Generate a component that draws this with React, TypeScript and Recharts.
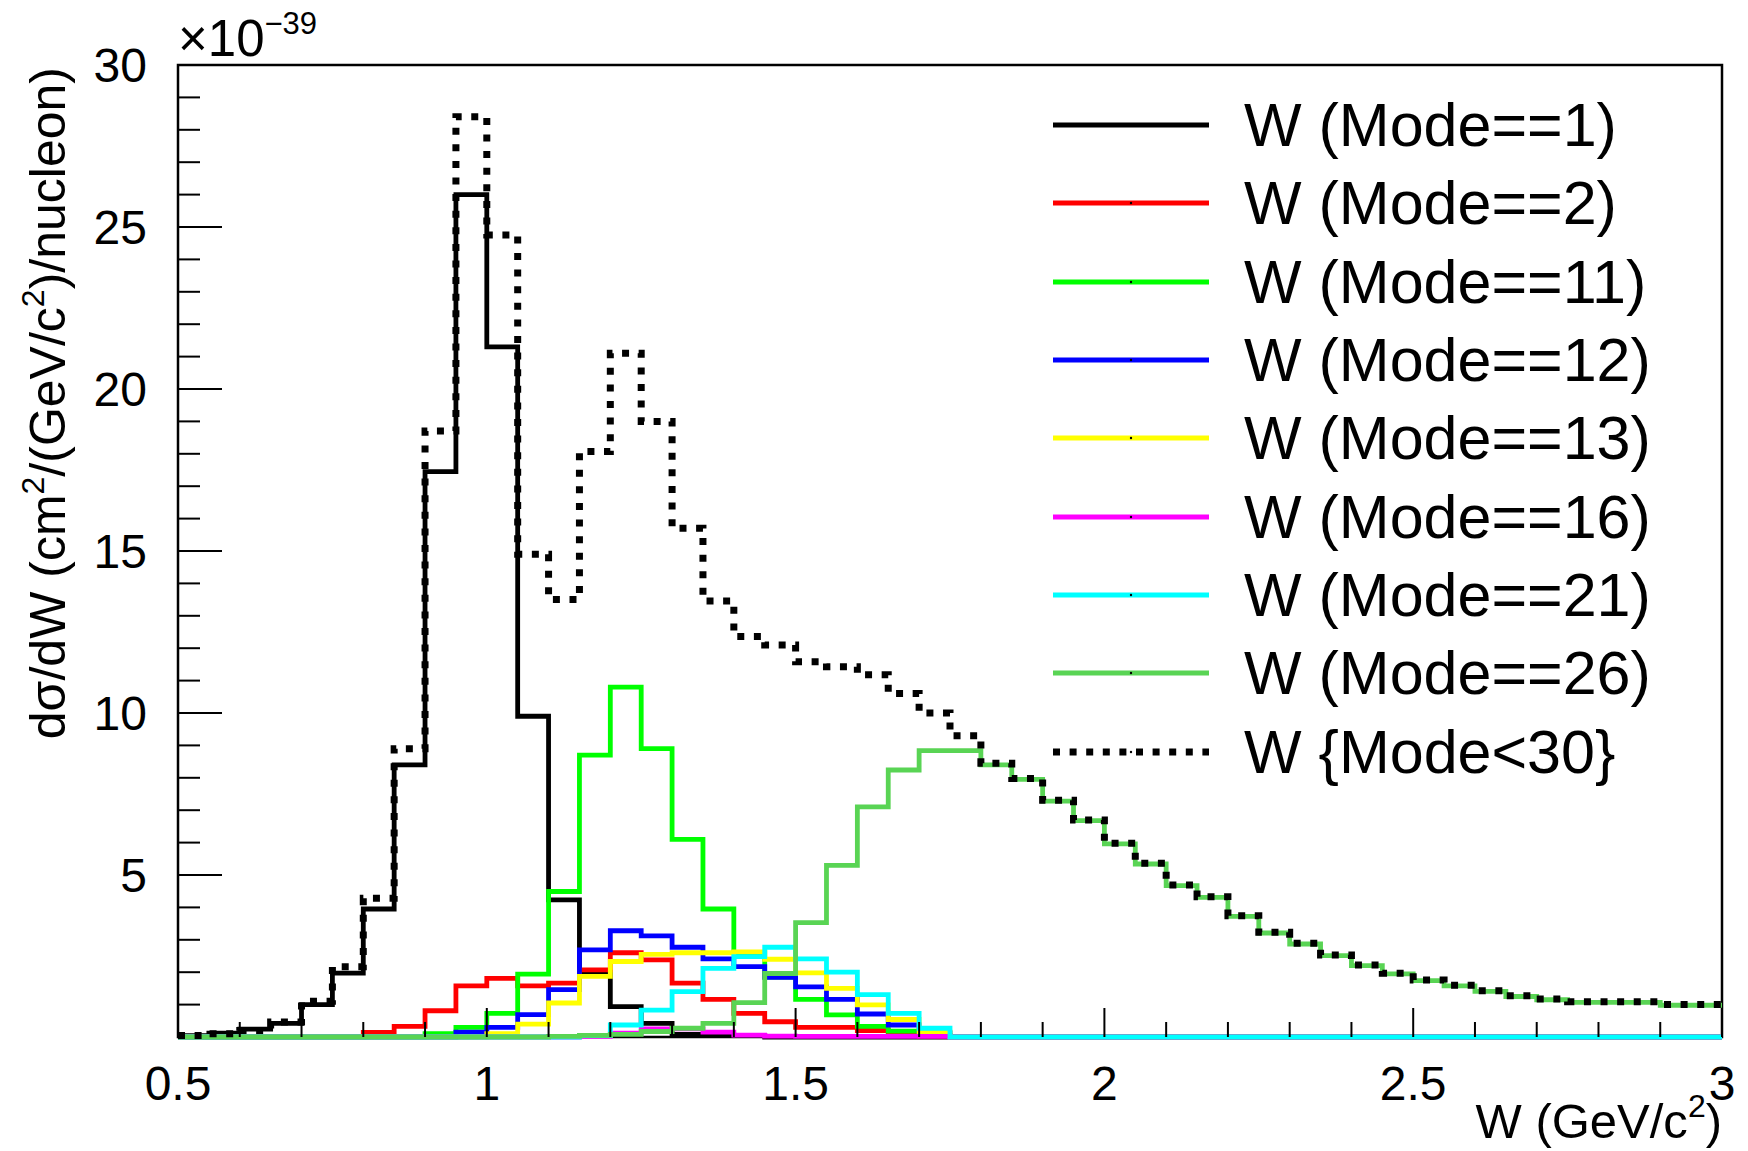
import React from "react";
import { LineChart, Line, XAxis, YAxis, ReferenceArea, Legend } from "recharts";

// bin edges in W (GeV/c^2), 50 bins of 0.05
const binEdges = [
  0.5, 0.55, 0.6, 0.65, 0.7, 0.75, 0.8, 0.85, 0.9, 0.95,
  1.0, 1.05, 1.1, 1.15, 1.2, 1.25, 1.3, 1.35, 1.4, 1.45,
  1.5, 1.55, 1.6, 1.65, 1.7, 1.75, 1.8, 1.85, 1.9, 1.95,
  2.0, 2.05, 2.1, 2.15, 2.2, 2.25, 2.3, 2.35, 2.4, 2.45,
  2.5, 2.55, 2.6, 2.65, 2.7, 2.75, 2.8, 2.85, 2.9, 2.95, 3.0,
];

// dsigma/dW per bin, units of 1e-39 cm^2/(GeV/c^2)/nucleon
const mode1 = [
  0.04, 0.12, 0.24, 0.42, 1.0, 1.97, 3.95, 8.4, 17.45, 26.0,
  21.3, 9.9, 4.23, 2.0, 0.94, 0.42, 0.08, 0.06, 0.04, 0,
  0, 0, 0, 0, 0, 0, 0, 0, 0, 0,
  0, 0, 0, 0, 0, 0, 0, 0, 0, 0,
  0, 0, 0, 0, 0, 0, 0, 0, 0, 0,
];
const mode2 = [
  0, 0, 0, 0, 0, 0, 0.14, 0.33, 0.81, 1.58,
  1.81, 1.58, 1.66, 2.07, 2.6, 2.38, 1.66, 1.16, 0.73, 0.47,
  0.3, 0.3, 0.2, 0.08, 0.03, 0, 0, 0, 0, 0,
  0, 0, 0, 0, 0, 0, 0, 0, 0, 0,
  0, 0, 0, 0, 0, 0, 0, 0, 0, 0,
];
const mode11 = [
  0, 0, 0, 0, 0, 0, 0, 0, 0.1, 0.3,
  0.73, 1.94, 4.49, 8.7, 10.8, 8.9, 6.1, 3.95, 2.6, 1.85,
  1.16, 0.68, 0.33, 0.18, 0.05, 0, 0, 0, 0, 0,
  0, 0, 0, 0, 0, 0, 0, 0, 0, 0,
  0, 0, 0, 0, 0, 0, 0, 0, 0, 0,
];
const mode12 = [
  0, 0, 0, 0, 0, 0, 0, 0, 0, 0.15,
  0.3, 0.69, 1.46, 2.69, 3.28, 3.12, 2.77, 2.41, 2.17, 1.84,
  1.55, 1.16, 0.71, 0.37, 0.13, 0, 0, 0, 0, 0,
  0, 0, 0, 0, 0, 0, 0, 0, 0, 0,
  0, 0, 0, 0, 0, 0, 0, 0, 0, 0,
];
const mode13 = [
  0, 0, 0, 0, 0, 0, 0, 0, 0, 0,
  0.1, 0.4, 1.05, 1.87, 2.33, 2.55, 2.6, 2.6, 2.63, 2.4,
  1.98, 1.5, 0.99, 0.54, 0.15, 0, 0, 0, 0, 0,
  0, 0, 0, 0, 0, 0, 0, 0, 0, 0,
  0, 0, 0, 0, 0, 0, 0, 0, 0, 0,
];
const mode16 = [
  0, 0, 0, 0, 0, 0, 0, 0, 0, 0,
  0, 0, 0, 0.02, 0.12, 0.25, 0.25, 0.15, 0.06, 0.03,
  0.02, 0.02, 0.02, 0.02, 0.02, 0, 0, 0, 0, 0,
  0, 0, 0, 0, 0, 0, 0, 0, 0, 0,
  0, 0, 0, 0, 0, 0, 0, 0, 0, 0,
];
const mode21 = [
  0, 0, 0, 0, 0, 0, 0, 0, 0, 0,
  0, 0, 0, 0.04, 0.37, 0.83, 1.4, 2.12, 2.48, 2.77,
  2.41, 2.0, 1.31, 0.73, 0.27, 0, 0, 0, 0, 0,
  0, 0, 0, 0, 0, 0, 0, 0, 0, 0,
  0, 0, 0, 0, 0, 0, 0, 0, 0, 0,
];
const mode26 = [
  0, 0, 0, 0, 0, 0, 0, 0, 0, 0,
  0, 0, 0.02, 0.05, 0.08, 0.17, 0.27, 0.42, 1.06, 1.96,
  3.53, 5.3, 7.1, 8.24, 8.84, 8.84, 8.4, 7.95, 7.28, 6.68,
  5.96, 5.34, 4.67, 4.31, 3.72, 3.21, 2.87, 2.51, 2.2, 1.95,
  1.74, 1.58, 1.41, 1.25, 1.15, 1.07, 1.07, 1.07, 0.98, 0.98,
];
const modeAll = [
  0.05, 0.1, 0.2, 0.46, 1.1, 2.17, 4.28, 8.9, 18.7, 28.4,
  24.75, 14.9, 13.5, 18.07, 21.1, 19.0, 15.7, 13.46, 12.36, 12.1,
  11.58, 11.43, 11.18, 10.6, 10.0, 9.3, 8.45, 7.98, 7.31, 6.7,
  5.98, 5.36, 4.69, 4.33, 3.74, 3.23, 2.89, 2.53, 2.22, 1.97,
  1.76, 1.6, 1.43, 1.27, 1.17, 1.09, 1.09, 1.09, 1.0, 1.0,
];

const xTicks = [
  0.5, 0.6, 0.7, 0.8, 0.9, 1, 1.1, 1.2, 1.3, 1.4, 1.5, 1.6, 1.7, 1.8, 1.9,
  2, 2.1, 2.2, 2.3, 2.4, 2.5, 2.6, 2.7, 2.8, 2.9, 3,
];
const xLabels = [0.5, 1, 1.5, 2, 2.5, 3];
const yTicks = [
  1, 2, 3, 4, 5, 6, 7, 8, 9, 10, 11, 12, 13, 14, 15,
  16, 17, 18, 19, 20, 21, 22, 23, 24, 25, 26, 27, 28, 29, 30,
];
const yLabels = [5, 10, 15, 20, 25, 30];

const series = [
  { key: "m1", name: "W (Mode==1)", values: mode1, color: "#000000" },
  { key: "m2", name: "W (Mode==2)", values: mode2, color: "#ff0000" },
  { key: "m11", name: "W (Mode==11)", values: mode11, color: "#00ff00" },
  { key: "m12", name: "W (Mode==12)", values: mode12, color: "#0000ff" },
  { key: "m13", name: "W (Mode==13)", values: mode13, color: "#ffff00" },
  { key: "m16", name: "W (Mode==16)", values: mode16, color: "#ff00ff" },
  { key: "m21", name: "W (Mode==21)", values: mode21, color: "#00ffff" },
  { key: "m26", name: "W (Mode==26)", values: mode26, color: "#59d454" },
  { key: "all", name: "W {Mode<30}", values: modeAll, color: "#000000", dotted: true },
];

// one row per bin edge; last edge repeats the last bin so the step reaches W=3
const data = binEdges.map((w, i) => {
  const row: any = { w };
  const b = Math.min(i, binEdges.length - 2);
  series.forEach((s) => {
    row[s.key] = s.values[b];
  });
  return row;
});

const FONT = "'Liberation Sans', Arial, Helvetica, sans-serif";
const LINE_W = 4.8;

const YTick = (props: any) => {
  const { x, y, payload } = props;
  const major = yLabels.includes(payload.value);
  return (
    <g>
      <line x1={x} x2={x + (major ? 44 : 22)} y1={y} y2={y} stroke="#000" strokeWidth={2} />
      {major && (
        <text x={x - 31} y={y} dy="0.36em" textAnchor="end" fontSize={48} fill="#000">
          {payload.value}
        </text>
      )}
    </g>
  );
};

const XTick = (props: any) => {
  const { x, y, payload } = props;
  const major = xLabels.includes(payload.value);
  return (
    <g>
      <line x1={x} x2={x} y1={y} y2={y - (major ? 29 : 15)} stroke="#000" strokeWidth={2} />
      {major && (
        <text x={x} y={y + 46} dy="0.36em" textAnchor="middle" fontSize={48} fill="#000">
          {String(payload.value)}
        </text>
      )}
    </g>
  );
};

const LegendBox = () => (
  <div style={{ fontFamily: FONT, color: "#000" }}>
    {series.map((s) => (
      <div key={s.key} style={{ display: "flex", alignItems: "center", height: 78.3 }}>
        <svg width={156} height={12} style={{ display: "block" }}>
          <line
            x1={0}
            x2={156}
            y1={6}
            y2={6}
            stroke={s.color}
            strokeWidth={s.dotted ? 7 : LINE_W}
            strokeDasharray={s.dotted ? "7 9.6" : undefined}
          />
          <circle cx={78} cy={6} r={1.2} fill="#000" />
        </svg>
        <span style={{ marginLeft: 35, fontSize: 61, lineHeight: "78px", whiteSpace: "nowrap" }}>
          {s.name}
        </span>
      </div>
    ))}
  </div>
);

export default function App() {
  // pulled up over the body margin so the exponent label has room at the top
  return (
    <div style={{ fontFamily: FONT, width: 1740, height: 1151, marginTop: -8 }}>
      <LineChart
        width={1740}
        height={1151}
        data={data}
        margin={{ top: 65, right: 26, left: 110, bottom: 84 }}
        style={{ fontFamily: FONT }}
      >
        <ReferenceArea x1={0.5} x2={3} y1={0} y2={30} fill="none" stroke="#000" strokeWidth={2.5} />
        <XAxis
          dataKey="w"
          type="number"
          domain={[0.5, 3]}
          ticks={xTicks}
          interval={0}
          height={30}
          axisLine={false}
          tickLine={false}
          tickSize={0}
          tickMargin={0}
          tick={<XTick />}
        />
        <YAxis
          type="number"
          domain={[0, 30]}
          ticks={yTicks}
          interval={0}
          width={60}
          axisLine={false}
          tickLine={false}
          tickSize={0}
          tickMargin={0}
          tick={<YTick />}
        />
        <Legend
          layout="vertical"
          align="center"
          verticalAlign="middle"
          wrapperStyle={{ left: 1045, top: 86, width: 680 }}
          content={<LegendBox />}
        />
        {series.map((s) => (
          <Line
            key={s.key}
            dataKey={s.key}
            name={s.name}
            type="stepAfter"
            stroke={s.color}
            strokeWidth={s.dotted ? 7 : LINE_W}
            strokeDasharray={s.dotted ? "7 9.6" : undefined}
            strokeLinecap="butt"
            strokeLinejoin="miter"
            dot={false}
            activeDot={false}
            isAnimationActive={false}
          />
        ))}
        <text x={170} y={56} fontSize={51} fill="#000">
          {"\u00d710"}
          <tspan fontSize={31} dy={-22}>{"\u221239"}</tspan>
        </text>
        <text
          x={57}
          y={67}
          fontSize={50}
          fill="#000"
          textAnchor="end"
          transform="rotate(-90, 57, 67)"
        >
          {"d\u03c3/dW (cm"}
          <tspan fontSize={32} dy={-21}>2</tspan>
          <tspan dy={21}>{"/(GeV/c"}</tspan>
          <tspan fontSize={32} dy={-21}>2</tspan>
          <tspan dy={21}>{")/nucleon)"}</tspan>
        </text>
        <text x={1714} y={1138} fontSize={49} fill="#000" textAnchor="end">
          {"W (GeV/c"}
          <tspan fontSize={32} dy={-21}>2</tspan>
          <tspan dy={21}>)</tspan>
        </text>
      </LineChart>
    </div>
  );
}
